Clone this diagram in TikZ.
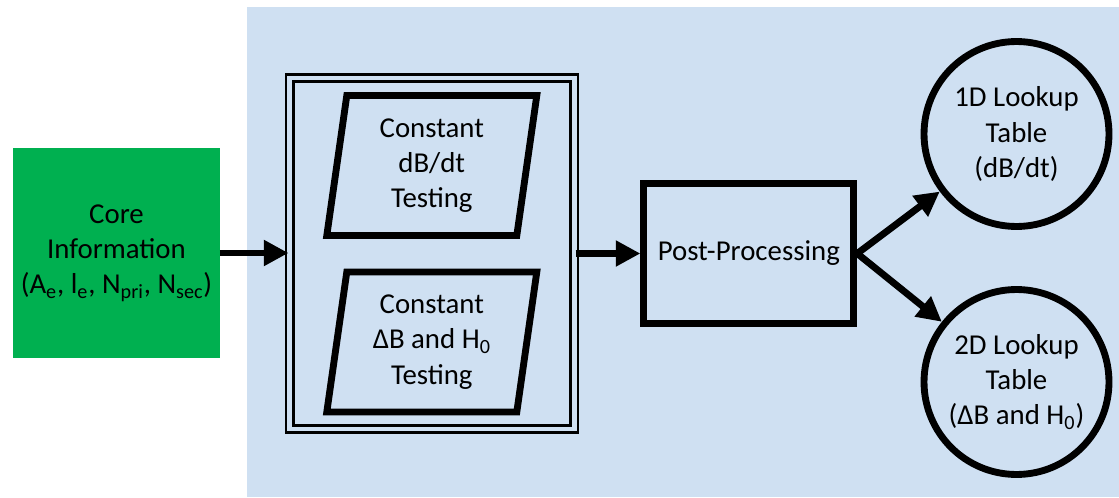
\documentclass[tikz,border=0pt]{standalone}
\usepackage{fontspec}
\setmainfont{Carlito}
\usetikzlibrary{arrows.meta}
\definecolor{panelblue}{RGB}{207,224,242}
\definecolor{coregreen}{RGB}{0,176,80}
\begin{document}
\begin{tikzpicture}[x=0.02cm,y=-0.02cm,
  every node/.style={font=\fontsize{16.4pt}{20pt}\selectfont, align=center, text=black},
  heavyline/.style={line width=3.9pt},
  flowarrow/.style={heavyline, -{Triangle[length=14pt,width=14pt]}},
  infobox/.style={fill=coregreen, inner sep=0pt, outer sep=0pt},
  framebox/.style={draw, line width=1.5pt, double=panelblue, double distance=2.7pt},
  procbox/.style={draw, heavyline},
  tablecircle/.style={draw, circle, heavyline, inner sep=0pt}]
  \useasboundingbox (0,0) rectangle (1119,497);

  % shaded panel behind the processing stages
  \fill[panelblue] (247,7) rectangle (1119,497);

  % input data
  \node[infobox, minimum width=4.14cm, minimum height=4.2cm] (core) at (116.5,253)
    {Core\\Information\\(A\textsubscript{e}, l\textsubscript{e}, N\textsubscript{pri}, N\textsubscript{sec})};

  % test group with its two test types
  \node[framebox, minimum width=5.69cm, minimum height=7.02cm] (tests) at (432,253.5) {};
  \node (t1) at (431.8,165.5) {Constant\\dB/dt\\Testing};
  \node (t2) at (431.8,342) {Constant\\ΔB and H\textsubscript{0}\\Testing};
  \draw[heavyline, shift={(t1.center)}] (-85,-70) -- (105,-70) -- (85,70) -- (-105,70) -- cycle;
  \draw[heavyline, shift={(t2.center)}] (-85,-70) -- (105,-70) -- (85,70) -- (-105,70) -- cycle;

  % post-processing stage
  \node[procbox, minimum width=4.2cm, minimum height=2.81cm] (post) at (748.8,253.5) {Post-Processing};

  % resulting lookup tables
  \node[tablecircle, minimum size=3.7cm] (lut1) at (1016.5,134) {1D Lookup\\Table\\(dB/dt)};
  \node[tablecircle, minimum size=3.7cm] (lut2) at (1016.5,382) {2D Lookup\\Table\\(ΔB and H\textsubscript{0})};

  % connectors
  \draw[flowarrow] (core.east) -- (core.east -| tests.west);
  \draw[flowarrow] (tests.east |- post.west) -- (post.west);
  \draw[flowarrow] (post.east) -- (lut1);
  \draw[flowarrow] (post.east) -- (lut2);
\end{tikzpicture}
\end{document}
